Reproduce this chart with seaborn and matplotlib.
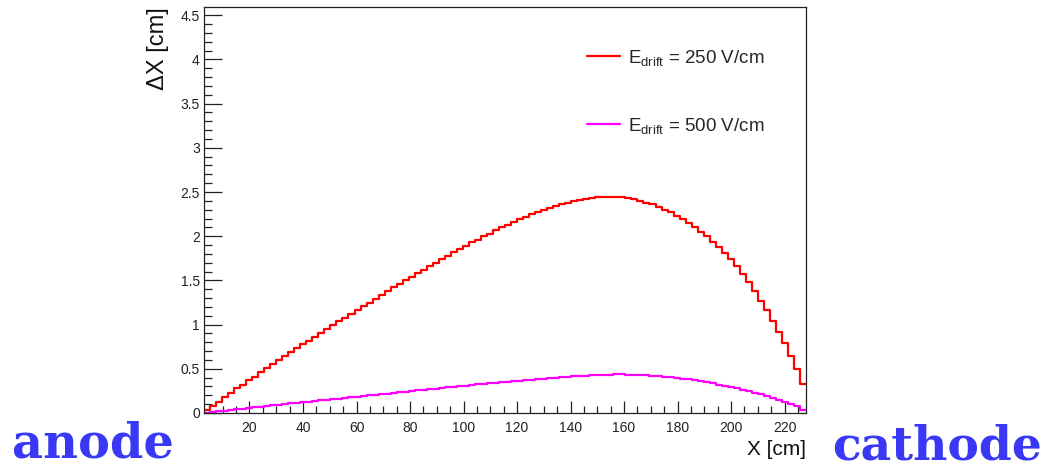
import numpy as np
import pandas as pd
import seaborn as sns
import matplotlib
matplotlib.use("Agg")
import matplotlib.pyplot as plt
from matplotlib.ticker import MultipleLocator, FormatStrFormatter

# ---- data -------------------------------------------------------------
x_min, x_max, n_bins = 3.0, 228.0, 100

dx_250 = [
    0.03, 0.08, 0.13, 0.18, 0.23, 0.28, 0.32, 0.37, 0.41, 0.46,
    0.51, 0.55, 0.60, 0.64, 0.69, 0.73, 0.78, 0.82, 0.86, 0.91,
    0.95, 0.99, 1.04, 1.08, 1.12, 1.16, 1.21, 1.25, 1.29, 1.34,
    1.38, 1.42, 1.46, 1.50, 1.54, 1.58, 1.62, 1.66, 1.70, 1.74,
    1.78, 1.82, 1.85, 1.89, 1.93, 1.96, 2.00, 2.03, 2.07, 2.10,
    2.13, 2.16, 2.19, 2.22, 2.25, 2.27, 2.30, 2.32, 2.34, 2.36,
    2.38, 2.40, 2.41, 2.42, 2.43, 2.44, 2.445, 2.445, 2.445, 2.44,
    2.43, 2.42, 2.40, 2.38, 2.36, 2.33, 2.30, 2.27, 2.23, 2.19,
    2.15, 2.10, 2.05, 2.00, 1.94, 1.88, 1.81, 1.74, 1.66, 1.57,
    1.48, 1.38, 1.27, 1.16, 1.04, 0.92, 0.79, 0.65, 0.50, 0.33,
]

dx_500 = [
    0.005, 0.012, 0.020, 0.027, 0.035, 0.042, 0.050, 0.058, 0.065, 0.072,
    0.080, 0.087, 0.094, 0.101, 0.108, 0.115, 0.122, 0.129, 0.136, 0.143,
    0.150, 0.157, 0.164, 0.171, 0.178, 0.185, 0.192, 0.199, 0.206, 0.213,
    0.220, 0.227, 0.234, 0.241, 0.248, 0.255, 0.262, 0.269, 0.276, 0.283,
    0.290, 0.297, 0.304, 0.311, 0.318, 0.324, 0.330, 0.336, 0.342, 0.348,
    0.354, 0.360, 0.366, 0.372, 0.378, 0.384, 0.390, 0.395, 0.400, 0.405,
    0.410, 0.415, 0.420, 0.424, 0.428, 0.431, 0.433, 0.435, 0.436, 0.436,
    0.435, 0.433, 0.430, 0.426, 0.422, 0.417, 0.411, 0.404, 0.397, 0.389,
    0.380, 0.370, 0.359, 0.347, 0.335, 0.322, 0.308, 0.294, 0.279, 0.263,
    0.246, 0.229, 0.211, 0.192, 0.172, 0.151, 0.129, 0.104, 0.075, 0.035,
]

labels = [r"E$_{\mathrm{drift}}$ = 250 V/cm", r"E$_{\mathrm{drift}}$ = 500 V/cm"]
colors = ["#ff0000", "#ff00ff"]
y_ticks_major = [0, 0.5, 1, 1.5, 2, 2.5, 3, 3.5, 4, 4.5]
x_ticks_major = [20, 40, 60, 80, 100, 120, 140, 160, 180, 200, 220]

# ---- style ------------------------------------------------------------
sns.set_theme(style="white")
plt.rcParams["font.family"] = ["Liberation Sans", "DejaVu Sans"]
plt.rcParams["mathtext.fontset"] = "custom"
plt.rcParams["mathtext.rm"] = "Liberation Sans"
plt.rcParams["mathtext.it"] = "Liberation Sans:italic"
plt.rcParams["mathtext.bf"] = "Liberation Sans:bold"

edges = np.linspace(x_min, x_max, n_bins + 1)
centers = 0.5 * (edges[:-1] + edges[1:])
df = pd.DataFrame({
    "x": np.concatenate([centers, centers]),
    "dx": np.concatenate([dx_250, dx_500]),
    "field": [labels[0]] * n_bins + [labels[1]] * n_bins,
})

fig = plt.figure(figsize=(10.5, 4.68), dpi=100)
ax = fig.add_axes([204 / 1050, 1 - 413 / 468, 602 / 1050, 406 / 468])

for lab, col in zip(labels, colors):
    sub = df[df["field"] == lab]
    sns.histplot(data=sub, x="x", weights="dx", bins=n_bins,
                 binrange=(x_min, x_max), element="step",
                 fill=False, color=col, linewidth=1.6, ax=ax, label=lab)

ax.set_xlim(x_min, x_max)
ax.set_ylim(0, 4.593)

ax.set_yticks(y_ticks_major)
ax.set_xticks(x_ticks_major)
ax.yaxis.set_major_formatter(FormatStrFormatter("%g"))
ax.yaxis.set_minor_locator(MultipleLocator(0.1))
ax.xaxis.set_minor_locator(MultipleLocator(5))
ax.tick_params(axis="y", which="major", direction="in", length=13, width=0.9,
               pad=3, labelsize=10, colors="#222222", left=True, right=False)
ax.tick_params(axis="y", which="minor", direction="in", length=6, width=0.9,
               left=True, right=False, colors="#222222")
ax.tick_params(axis="x", which="major", direction="in", length=9, width=0.9,
               pad=6, labelsize=10, colors="#222222", bottom=True, top=False)
ax.tick_params(axis="x", which="minor", direction="in", length=5, width=0.9,
               bottom=True, top=False, colors="#222222")
for s in ax.spines.values():
    s.set_color("#222222")
    s.set_linewidth(0.9)

ax.set_ylabel("ΔX [cm]", fontsize=17, loc="top", color="#111111")
ax.yaxis.set_label_coords(-0.058, 1.0)
ax.set_xlabel("X [cm]", fontsize=15, loc="right", color="#111111")
ax.xaxis.set_label_coords(1.0, -0.066)

leg = ax.legend(loc="upper left", bbox_to_anchor=(0.636, 0.90), frameon=False,
                fontsize=13.5, handlelength=1.76, handletextpad=0.45,
                labelspacing=2.57, borderpad=0, borderaxespad=0)

fig.text(12 / 1050, 1 - 457 / 468, "anode", ha="left", va="baseline",
         fontsize=34.5, fontweight="bold", family="DejaVu Serif", color="#3838f5")
fig.text(1042 / 1050, 1 - 459 / 468, "cathode", ha="right", va="baseline",
         fontsize=34, fontweight="bold", family="DejaVu Serif", color="#3838f5")

fig.savefig("out.png", dpi=100)
